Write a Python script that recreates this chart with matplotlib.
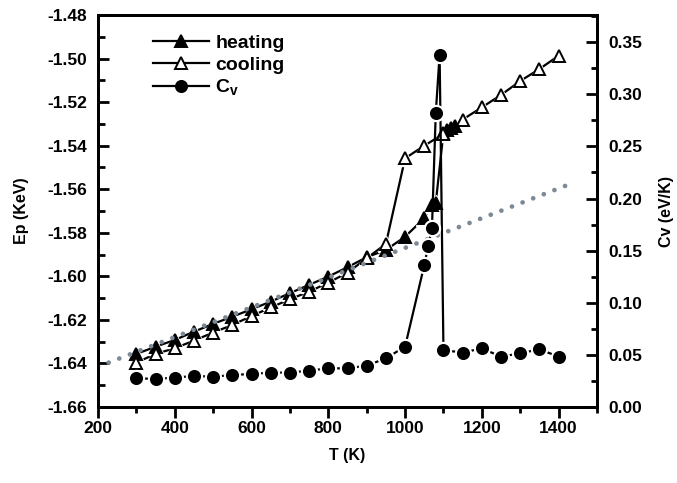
import matplotlib
matplotlib.use('Agg')
import matplotlib.pyplot as plt
from matplotlib.ticker import MultipleLocator

plt.rcParams['font.family'] = ['Liberation Sans', 'DejaVu Sans']
plt.rcParams['font.weight'] = 'bold'
plt.rcParams['mathtext.fontset'] = 'custom'
plt.rcParams['mathtext.bf'] = 'Liberation Sans:bold'
plt.rcParams['mathtext.rm'] = 'Liberation Sans:bold'
plt.rcParams['mathtext.default'] = 'bf'

# heating (filled triangles)
T_heat = [300, 350, 400, 450, 500, 550, 600, 650, 700, 750, 800, 850, 900, 950,
          1000, 1050, 1070, 1080, 1100, 1110, 1120, 1130]
Ep_heat = [-1.6356, -1.6323, -1.6292, -1.6254, -1.6218, -1.6185, -1.6151, -1.6116,
           -1.6077, -1.6039, -1.6001, -1.5958, -1.5912, -1.5879,
           -1.5818, -1.5733, -1.5672, -1.5662, -1.5340, -1.5330, -1.5320, -1.5310]

# cooling (open triangles)
T_cool = [300, 350, 400, 450, 500, 550, 600, 650, 700, 750, 800, 850, 900, 950,
          1000, 1050, 1100, 1150, 1200, 1250, 1300, 1350, 1400]
Ep_cool = [-1.6396, -1.6356, -1.6330, -1.6295, -1.6258, -1.6223, -1.6182, -1.6143,
           -1.6105, -1.6070, -1.6029, -1.5983, -1.5917, -1.5851,
           -1.5458, -1.5400, -1.5346, -1.5280, -1.5224, -1.5167, -1.5103, -1.5048, -1.4987]

# specific heat (filled circles)
T_cv = [300, 350, 400, 450, 500, 550, 600, 650, 700, 750, 800, 850, 900, 950,
        1000, 1050, 1060, 1070, 1080, 1090, 1100, 1150, 1200, 1250, 1300, 1350, 1400]
Cv = [0.0276, 0.0269, 0.0282, 0.0298, 0.0291, 0.0307, 0.0317, 0.0330, 0.0330, 0.0349,
      0.0371, 0.0371, 0.0397, 0.0467, 0.0579, 0.136, 0.154, 0.1715, 0.282, 0.338,
      0.0547, 0.0521, 0.0563, 0.0483, 0.0515, 0.0554, 0.0483]

# gray dotted guide line
T_fit = [200, 1430]
Ep_fit = [-1.6415, -1.5576]


def series(a, x, y, marker, ms, mfc, label):
    # line, then a white halo so the line breaks near each symbol, then the symbol
    a.plot(x, y, '-', color='black', lw=1.6, zorder=2)
    a.plot(x, y, linestyle='none', marker=marker, ms=ms + 3.5, mfc='white',
           mec='white', zorder=2.5)
    a.plot(x, y, linestyle='none', marker=marker, ms=ms, mfc=mfc,
           mec='black', mew=1.4, zorder=3)
    # legend handle with line + symbol
    a.plot([], [], '-', color='black', lw=1.6, marker=marker, ms=ms, mfc=mfc,
           mec='black', mew=1.4, label=label)
    return a.get_lines()[-1]


fig = plt.figure(figsize=(6.77, 4.83), dpi=100)
ax = fig.add_axes([0.1448, 0.1573, 0.737, 0.8116])
ax2 = ax.twinx()

h1 = series(ax, T_heat, Ep_heat, '^', 8.5, 'black', 'heating')
h2 = series(ax, T_cool, Ep_cool, '^', 8.5, 'white', 'cooling')
ax.plot(T_fit, Ep_fit, linestyle=(0, (0.01, 2.4)), color='#7d8994', lw=3.4,
        dash_capstyle='round', zorder=4)
h3 = series(ax2, T_cv, Cv, 'o', 8, 'black', r'C$_{v}$')

ax.set_xlim(200, 1500)
ax.set_ylim(-1.66, -1.48)
ax2.set_ylim(0, 0.376)

ax.xaxis.set_major_locator(MultipleLocator(200))
ax.xaxis.set_minor_locator(MultipleLocator(100))
ax.yaxis.set_major_locator(MultipleLocator(0.02))
ax.yaxis.set_minor_locator(MultipleLocator(0.01))
ax2.yaxis.set_major_locator(MultipleLocator(0.05))
ax2.yaxis.set_minor_locator(MultipleLocator(0.025))
ax.yaxis.set_major_formatter(plt.FormatStrFormatter('%.2f'))
ax2.yaxis.set_major_formatter(plt.FormatStrFormatter('%.2f'))

ax.tick_params(axis='x', which='major', direction='out', length=8, width=2,
               labelsize=12.5, pad=2)
ax.tick_params(axis='x', which='minor', direction='out', length=4, width=2)
ax.tick_params(axis='y', which='major', direction='in', length=8, width=2,
               labelsize=12.5, pad=8)
ax.tick_params(axis='y', which='minor', direction='in', length=5, width=2)
ax2.tick_params(axis='y', which='major', direction='in', length=8, width=2,
                labelsize=12.5, pad=8)
ax2.tick_params(axis='y', which='minor', direction='in', length=4.5, width=2)

for a in (ax, ax2):
    for s in a.spines.values():
        s.set_linewidth(2)

ax.set_xlabel('T (K)', fontsize=11.5, fontweight='bold', labelpad=9)
ax.set_ylabel('Ep (KeV)', fontsize=11.5, fontweight='bold', labelpad=13)
ax2.set_ylabel('Cv (eV/K)', fontsize=11.5, fontweight='bold', labelpad=12)

ax2.legend(handles=[h1, h2, h3], loc='upper left', bbox_to_anchor=(0.075, 0.995),
           frameon=False, handlelength=2.9, handletextpad=0.3, labelspacing=0.2,
           prop={'size': 14, 'weight': 'bold'})

fig.savefig('out.png', dpi=100)
